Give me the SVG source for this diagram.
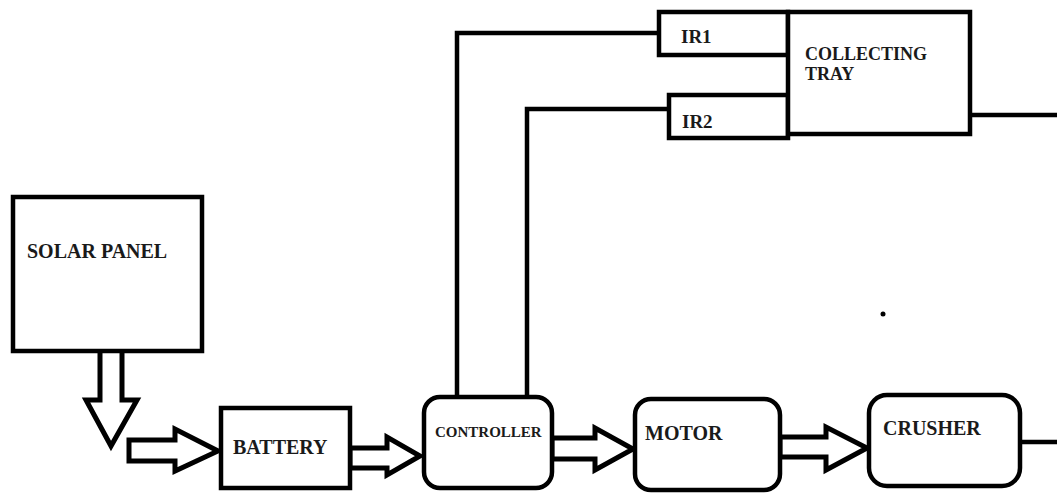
<svg xmlns="http://www.w3.org/2000/svg" width="1057" height="493" viewBox="0 0 1057 493">
<style>
.box{fill:#fff;stroke:#000;stroke-width:4.5}
.arr{fill:#fff;stroke:#000;stroke-width:5;stroke-linejoin:miter}
.ln{fill:none;stroke:#000;stroke-width:4.5}
.t{font-family:'Liberation Serif','DejaVu Serif',serif;font-weight:bold;fill:#1a1a1a}
</style>
<rect width="1057" height="493" fill="#fff"/>
<g id="connectors">
<polyline class="ln" points="457,397 457,33 659,33"/>
<polyline class="ln" points="527,397 527,109 669,109"/>
<line class="ln" x1="970" y1="115" x2="1057" y2="115"/>
<line class="ln" x1="1020" y1="442" x2="1057" y2="442"/>
<polygon class="arr" points="100,350 100,400 86,400 111,446 137,400 122,400 122,350"/>
<polygon class="arr" points="129,440 175,440 175,429 218,451 175,471 175,461 129,461"/>
<polygon class="arr" points="350,448 387,448 387,437 420,456 387,475 387,468 350,468"/>
<polygon class="arr" points="552,438 595,438 595,428 633,449 595,470 595,459 552,459"/>
<polygon class="arr" points="780,437 826,437 826,427 867,448 826,470 826,457 780,457"/>
</g>
<g id="solar-panel">
<rect class="box" x="13" y="197" width="189" height="154"/>
<text class="t" x="27" y="258" font-size="20">SOLAR PANEL</text>
</g>
<g id="battery">
<rect class="box" x="221" y="408" width="129" height="80"/>
<text class="t" x="233" y="454" font-size="20">BATTERY</text>
</g>
<g id="controller">
<rect class="box" x="424" y="397" width="128" height="91" rx="16"/>
<text class="t" x="435" y="437" font-size="15">CONTROLLER</text>
</g>
<g id="motor">
<rect class="box" x="635" y="399" width="145" height="91" rx="16"/>
<text class="t" x="645" y="440" font-size="20">MOTOR</text>
</g>
<g id="crusher">
<rect class="box" x="869" y="395" width="151" height="91" rx="18"/>
<text class="t" x="883" y="435" font-size="20">CRUSHER</text>
</g>
<g id="ir1">
<rect class="box" x="659" y="12" width="129" height="43"/>
<text class="t" x="681" y="43" font-size="19">IR1</text>
</g>
<g id="ir2">
<rect class="box" x="669" y="95" width="119" height="43"/>
<text class="t" x="682" y="128" font-size="19">IR2</text>
</g>
<g id="collecting-tray">
<rect class="box" x="788" y="12" width="182" height="122"/>
<text class="t" x="805" y="60" font-size="18">COLLECTING</text>
<text class="t" x="805" y="80" font-size="18">TRAY</text>
</g>
<circle cx="883" cy="314" r="2.5" fill="#000"/>
</svg>
